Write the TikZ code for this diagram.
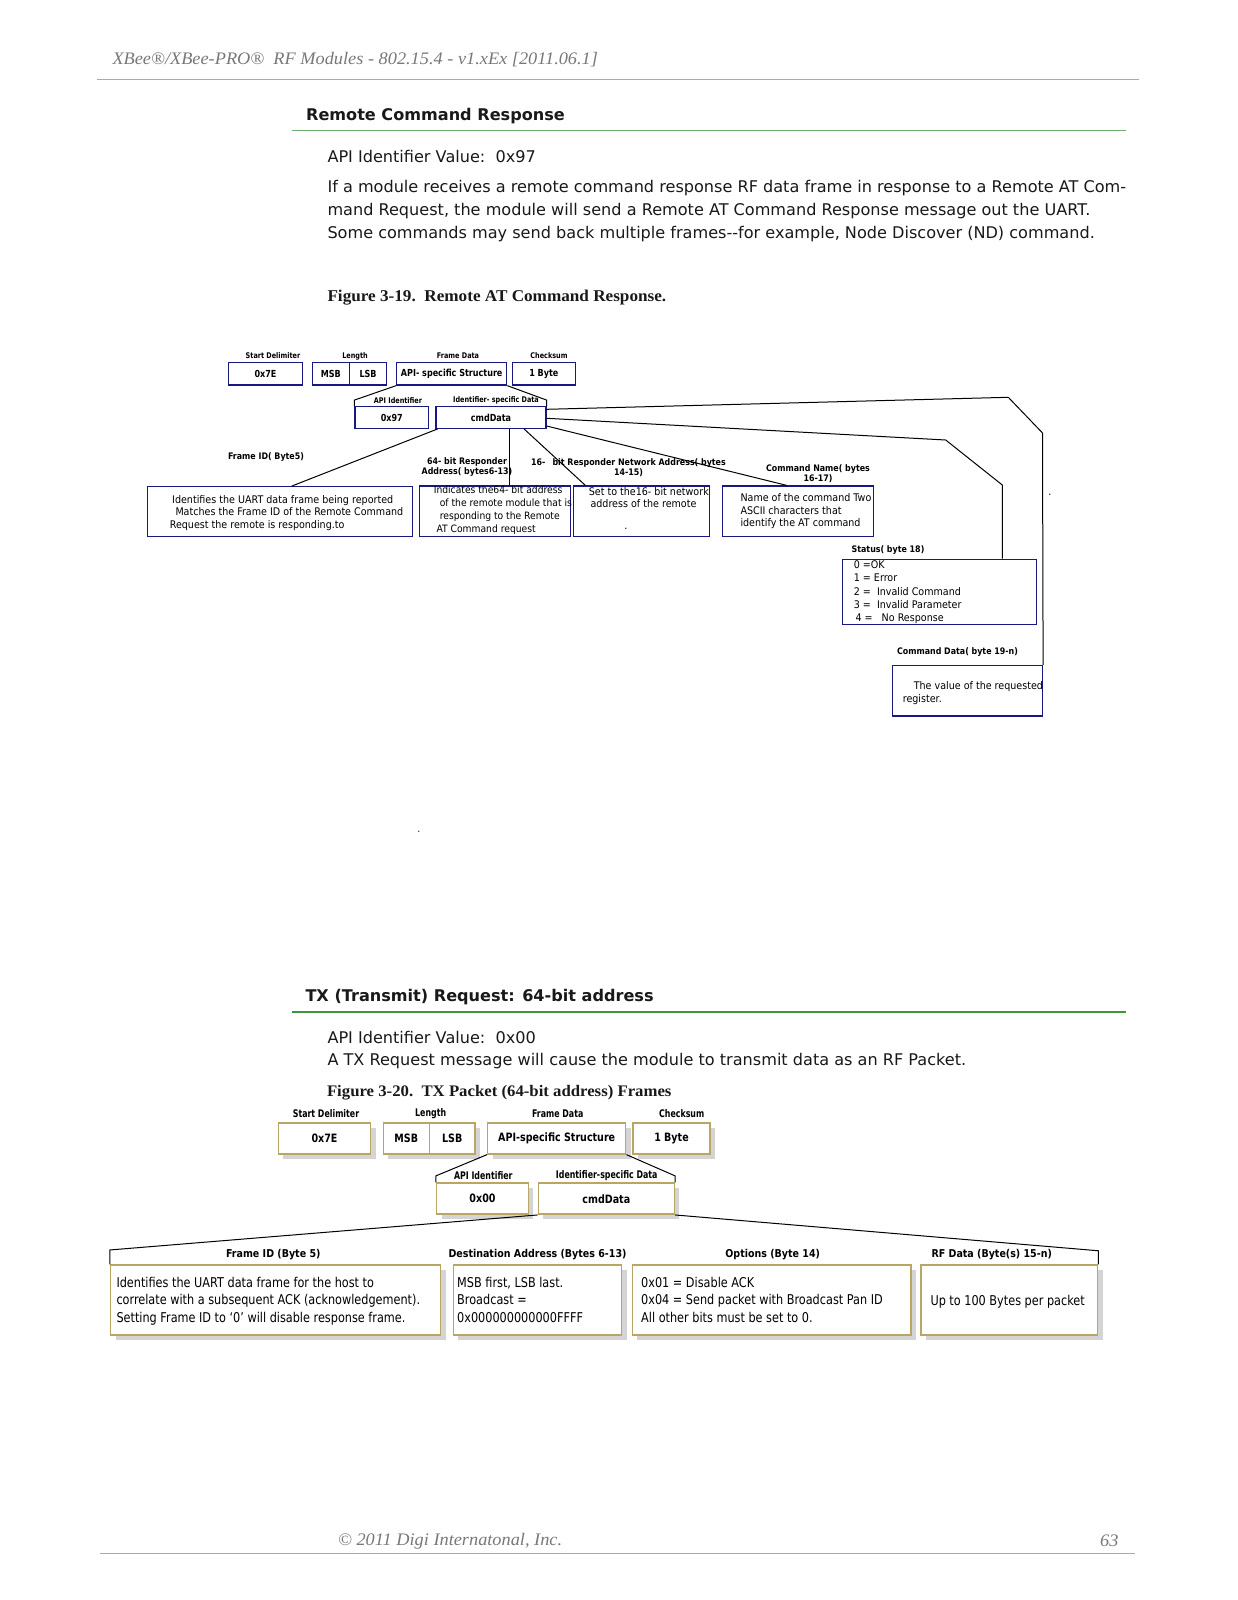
\documentclass[tikz,border=0pt]{standalone}
\usepackage{fontspec}
\setmainfont{DejaVu Sans}
\newfontfamily\bodyfnt{DejaVu Sans}
\newfontfamily\narrowfnt[FakeStretch=0.83]{DejaVu Sans}
\newfontfamily\labelfnt[FakeStretch=0.88]{DejaVu Sans}
\newfontfamily\fieldfnt[FakeStretch=0.75]{DejaVu Sans}
\newfontfamily\boxfnt[FakeStretch=0.91]{DejaVu Sans}
\newfontfamily\condfnt[FakeStretch=0.835]{DejaVu Sans}
\newfontfamily\serfnt[FakeStretch=1.04]{Liberation Serif}
\usepackage{tikz}
\usetikzlibrary{positioning,shadows}
\definecolor{frameblue}{RGB}{24,24,128}
\definecolor{framegold}{RGB}{185,165,100}
\definecolor{shadowgrey}{RGB}{212,212,212}
\definecolor{rulegreen}{RGB}{112,176,112}
\definecolor{rulegreendark}{RGB}{60,150,60}
\definecolor{rulegrey}{RGB}{170,170,170}
\definecolor{pagegrey}{RGB}{120,120,120}
\definecolor{inkblack}{RGB}{25,25,25}
\tikzset{every picture/.style={line width=1pt}}
\tikzset{
  pagetext/.style={anchor=west, inner sep=0pt, text=inkblack, font=\bodyfnt\fontsize{16.1}{19}\selectfont},
  pagehead/.style={pagetext, font=\bodyfnt\bfseries\fontsize{16.1}{19}\selectfont},
  figcap/.style={pagetext, font=\serfnt\bfseries\fontsize{16.5}{19}\selectfont},
  pagemark/.style={anchor=west, inner sep=0pt, text=pagegrey, font=\serfnt\itshape\fontsize{17.6}{21}\selectfont},
  % Figure 3-19
  rfield/.style={inner sep=0pt, font=\narrowfnt\bfseries\fontsize{7.8}{9}\selectfont},
  rbox/.style={draw=frameblue, line width=1.2pt, inner sep=0pt, minimum height=22.7pt, font=\narrowfnt\bfseries\fontsize{9.7}{11}\selectfont},
  rnote/.style={draw=frameblue, line width=1.2pt, inner sep=0pt},
  rlabel/.style={inner sep=0pt, align=center, font=\labelfnt\bfseries\fontsize{9}{10}\selectfont},
  rtext/.style={anchor=north west, inner sep=0pt, align=left, font=\boxfnt\fontsize{10.5}{12.7}\selectfont},
  % Figure 3-20
  tfield/.style={inner sep=0pt, font=\fieldfnt\bfseries\fontsize{10.5}{12}\selectfont},
  tlabel/.style={inner sep=0pt, font=\labelfnt\bfseries\fontsize{10.8}{12}\selectfont},
  tbox/.style={draw=framegold, line width=1.5pt, fill=white, inner sep=0pt, minimum height=31pt,
    drop shadow={shadow xshift=5pt, shadow yshift=-5pt, fill=shadowgrey, opacity=1},
    font=\narrowfnt\bfseries\fontsize{11.5}{13}\selectfont},
  ttext/.style={anchor=north west, inner sep=0pt, align=left, font=\condfnt\fontsize{13.5}{17.7}\selectfont},
}

\begin{document}
\begin{tikzpicture}[x=1pt,y=-1pt]
\fill[white] (0,0) rectangle (1237,1600);
\useasboundingbox (0,0) rectangle (1237,1600);
% page header and text
\node[pagemark] (hdr) at (112,60) {XBee®/XBee-PRO®\ \ RF Modules - 802.15.4 - v1.xEx [2011.06.1]};
\draw[rulegrey] (97,79.5) -- (1139,79.5);
\node[pagehead] (sec1) at (305.6,116.5) {Remote Command Response};
\draw[rulegreen, line width=1.5pt] (292,130.5) -- (1126,130.5);
\node[pagetext] (apiv1) at (327,156.5) {API Identifier Value:\ \ 0x97};
\node[pagetext] (body1) at (327,188.5) {If a module receives a remote command response RF data frame in response to a Remote AT Com-};
\node[pagetext] (body2) at (327,211.5) {mand Request, the module will send a Remote AT Command Response message out the UART.};
\node[pagetext] (body3) at (327,234.5) {Some commands may send back multiple frames{-}{-}for example, Node Discover (ND) command.};
\node[figcap] (cap1) at (327,298) {Figure 3-19.\ \ Remote AT Command Response.};
%
% Figure 3-19: frame
\node[rfield] (sdl) at (273,356) {Start Delimiter};
\node[rfield] (lenl) at (355,356) {Length};
\node[rfield] (fdl) at (458,356) {Frame Data};
\node[rfield] (ckl) at (549,356) {Checksum};
\node[rbox, minimum width=74.4pt] (sd) at (265.5,373.7) {0x7E};
\node[rbox, minimum width=37.2pt] (msb) at (330.9,373.7) {MSB};
\node[rbox, minimum width=37.2pt] (lsb) at (368.1,373.7) {LSB};
\node[rbox, minimum width=110pt] (api) at (451.7,373.7) {API- specific Structure};
\node[rbox, minimum width=63pt] (cks) at (543.8,373.7) {1 Byte};
\node[rfield] (idl) at (398,400.7) {API Identifier};
\node[rfield] (isl) at (496,400.7) {Identifier- specific Data};
\node[rbox, minimum width=73.7pt, minimum height=21.6pt] (apiid) at (391.8,417.5) {0x97};
\node[rbox, minimum width=110pt, minimum height=21.6pt] (cmd) at (491,417.5) {cmdData};
%
\node[rlabel] (fidl) at (266,456.7) {Frame ID( Byte5)};
\node[rlabel] (ral) at (467,466.7) {64- bit Responder\\Address( bytes6-13)};
\node[rlabel] (nal) at (628.5,468) {16-\hspace{7pt}bit Responder Network Address( bytes\\14-15)};
\node[rlabel] (cnl) at (818,473.7) {Command Name( bytes\\16-17)};
\node[rlabel] (stl) at (888,550) {Status( byte 18)};
\node[rlabel] (cdl) at (957.5,651.7) {Command Data( byte 19-n)};
%
\node[rnote, minimum width=265.4pt, minimum height=49.8pt] (fidbox) at (280,511.6) {};
\node[rnote, minimum width=151.4pt, minimum height=50.5pt] (indbox) at (495,511.25) {};
\node[rnote, minimum width=136pt, minimum height=50.5pt] (setbox) at (641.3,511.25) {};
\node[rnote, minimum width=151pt, minimum height=50.5pt] (namebox) at (797.8,511.25) {};
\node[rnote, minimum width=194.4pt, minimum height=65pt] (statbox) at (939.5,591.8) {};
\node[rnote, minimum width=150.2pt, minimum height=50.3pt] (cdbox) at (967.4,690.9) {};
%
\node[rtext] (fidtxt) at (169.3,494.8) {\hspace*{2.4pt}Identifies the UART data frame being reported\\\hspace*{5.7pt}Matches the Frame ID of the Remote Command\\Request the remote is responding.to};
\node[rtext, font=\boxfnt\fontsize{10.1}{12.7}\selectfont] (indtxt) at (433.3,485.8) {Indicates the64- bit address\\\hspace*{6pt}of the remote module that is\\\hspace*{6pt}responding to the Remote\\\hspace*{2.7pt}AT Command request};
\node[rtext] (settxt) at (588.3,486.8) {Set to the16- bit network\\\hspace*{1.7pt}address of the remote};
\node[rtext] (nametxt) at (740,493.1) {Name of the command Two\\ASCII characters that\\identify the AT command};
\node[rtext, font=\boxfnt\fontsize{10.5}{13.35}\selectfont] (stattxt) at (853.3,560.1) {0 =OK\\1 = Error\\2 =\ \ Invalid Command\\3 =\ \ Invalid Parameter\\\hspace*{1.7pt}4 =\ \ \ No Response};
\node[rtext, font=\boxfnt\fontsize{10.5}{13.3}\selectfont] (cdtxt) at (902.3,680.8) {\hspace*{11pt}The value of the requested\\register.};
\node[rtext, anchor=center] (dota) at (626,529) {.};
\node[rtext, anchor=center] (dotb) at (1050,495) {.};
\node[rtext, anchor=center, text=frameblue] (dotc) at (419,832) {.};
%
% Figure 3-19: connectors
\coordinate (sbenda) at (945.7,440);
\coordinate (sbendb) at (1002.3,485);
\coordinate (dbenda) at (1008.3,397.3);
\coordinate (dbendb) at (1042.5,433);
\draw (api.south west) -- ([yshift=6pt]apiid.north west) -- (apiid.north west);
\draw (api.south east) -- ([yshift=6pt]cmd.north east) -- (cmd.north east);
\draw ([xshift=2.3pt]cmd.south west) -- ([xshift=11.7pt]fidbox.north);
\draw ([xshift=18.3pt]cmd.south) -- ([xshift=18.3pt]cmd.south |- indbox.north);
\draw ([xshift=33pt]cmd.south) -- ([xshift=12.7pt]setbox.north west);
\draw ([yshift=-8.5pt]cmd.east) -- ([xshift=-11pt]namebox.north);
\draw ([yshift=-0.8pt]cmd.east) -- (sbenda) -- (sbendb) -- (sbendb |- statbox.north);
\draw ([yshift=8.2pt]cmd.east) -- (dbenda) -- (dbendb) -- (cdbox.north east);
%
% TX request text
\node[pagehead] (sec2) at (305,997) {TX (Transmit) Request: 64-bit address};
\draw[rulegreendark, line width=1.5pt] (292,1012) -- (1126,1012);
\node[pagetext] (apiv2) at (327,1037) {API Identifier Value:\ \ 0x00};
\node[pagetext] (body4) at (327,1061) {A TX Request message will cause the module to transmit data as an RF Packet.};
\node[figcap, font=\serfnt\bfseries\fontsize{16.1}{19}\selectfont] (cap2) at (326.5,1092.5) {Figure 3-20.\ \ TX Packet (64-bit address) Frames};
%
% Figure 3-20: frame
\node[tfield] (sdl2) at (326,1114) {Start Delimiter};
\node[tfield] (lenl2) at (430.7,1114) {Length};
\node[tfield] (fdl2) at (557.7,1114) {Frame Data};
\node[tfield] (ckl2) at (681.7,1114) {Checksum};
\node[tbox, minimum width=92.4pt] (sd2) at (324.5,1138.4) {0x7E};
\node[tbox, minimum width=46pt] (msb2) at (406.3,1138.4) {MSB};
\node[tbox, minimum width=45.7pt] (lsb2) at (452.2,1138.4) {LSB};
\node[tbox, minimum width=138pt] (api2) at (556.7,1138.4) {API-specific Structure};
\node[tbox, minimum width=77pt] (cks2) at (671.5,1138.4) {1 Byte};
\node[tfield] (idl2) at (483.3,1175.7) {API Identifier};
\node[tfield] (isl2) at (606.7,1175.7) {Identifier-specific Data};
\node[tbox, minimum width=91.6pt] (id2) at (482.5,1198.7) {0x00};
\node[tbox, minimum width=136pt] (cmd2) at (606.3,1198.7) {cmdData};
%
\node[tlabel] (fidl2) at (273.3,1254.3) {Frame ID (Byte 5)};
\node[tlabel] (dstl) at (537.5,1254.3) {Destination Address (Bytes 6-13)};
\node[tlabel] (optl) at (772.7,1254.3) {Options (Byte 14)};
\node[tlabel] (rfl) at (991.7,1254.3) {RF Data (Byte(s) 15-n)};
\node[tbox, minimum width=330pt, minimum height=70pt] (fid2) at (275.7,1300) {};
\node[tbox, minimum width=168.4pt, minimum height=70pt] (dst) at (537.5,1300) {};
\node[tbox, minimum width=278.7pt, minimum height=70pt] (opt) at (771.7,1300) {};
\node[tbox, minimum width=176.5pt, minimum height=70pt] (rf2) at (1009.3,1300) {};
\node[ttext] (fidtxt2) at (116,1276.4) {Identifies the UART data frame for the host to\\correlate with a subsequent ACK (acknowledgement).\\Setting Frame ID to ‘0’ will disable response frame.};
\node[ttext] (dsttxt) at (456.7,1276.4) {MSB first, LSB last.\\Broadcast =\\0x000000000000FFFF};
\node[ttext] (opttxt) at (640.7,1276.4) {0x01 = Disable ACK\\0x04 = Send packet with Broadcast Pan ID\\All other bits must be set to 0.};
\node[ttext] (rftxt) at (930,1294.7) {Up to 100 Bytes per packet};
%
% Figure 3-20: connectors
\draw (api2.south west) -- ([yshift=6.6pt]id2.north west) -- (id2.north west);
\draw (api2.south east) -- ([yshift=6.6pt]cmd2.north east) -- (cmd2.north east);
\draw (cmd2.south west) -- ([yshift=14.3pt]fid2.north west) -- (fid2.north west);
\draw (cmd2.south east) -- ([yshift=13.5pt]rf2.north east) -- (rf2.north east);
%
% page footer
\node[pagemark] (ftr) at (337.6,1541) {© 2011 Digi Internatonal, Inc.};
\node[pagemark, anchor=east] (pgno) at (1119,1541) {63};
\draw[rulegrey] (100,1553) -- (1135,1553);
\end{tikzpicture}
\end{document}
